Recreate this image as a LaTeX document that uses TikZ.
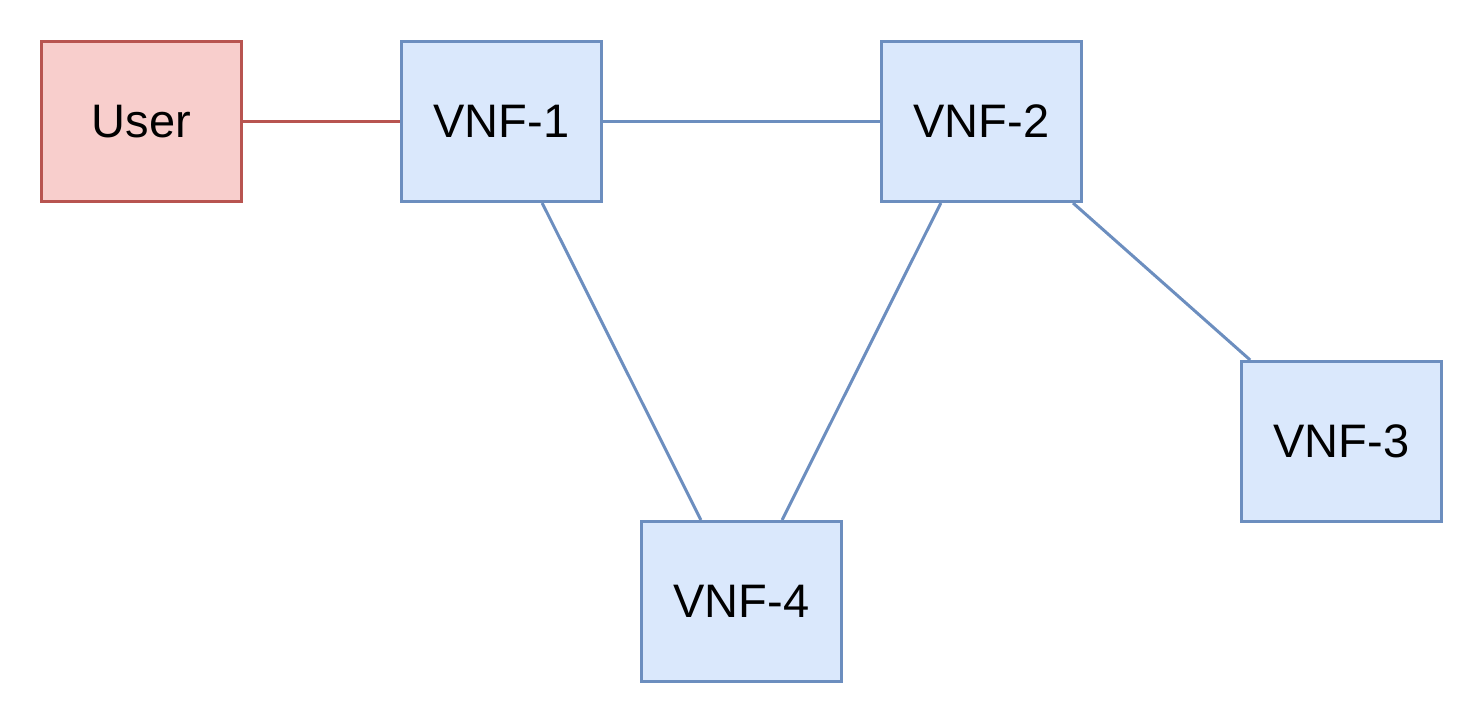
\documentclass[tikz,border=0pt]{standalone}
\usepackage{fontspec}
\setmainfont{Liberation Sans}
\definecolor{bfill}{HTML}{DAE8FC}
\definecolor{bdraw}{HTML}{6C8EBF}
\definecolor{rfill}{HTML}{F8CECC}
\definecolor{rdraw}{HTML}{B85450}
\begin{document}
\begin{tikzpicture}[x=1pt,y=-1pt,
  vnf/.style={draw=bdraw,fill=bfill,line width=3pt,minimum width=200pt,minimum height=160pt,inner sep=0pt,font=\fontsize{47}{56}\selectfont},
  usr/.style={vnf,draw=rdraw,fill=rfill},
  blink/.style={draw=bdraw,line width=3pt},
  rlink/.style={draw=rdraw,line width=3pt}]
\useasboundingbox (0,0) rectangle (1484,724);
\node[usr] (user) at (141.5,121.5) {User};
\node[vnf] (v1) at (501.5,121.5) {VNF-1};
\node[vnf] (v2) at (981.5,121.5) {VNF-2};
\node[vnf] (v3) at (1341.5,441.5) {VNF-3};
\node[vnf] (v4) at (741.5,601.5) {VNF-4};
\draw[rlink] (user) -- (v1);
\draw[blink] (v1) -- (v2);
\draw[blink] (v1) -- (v4);
\draw[blink] (v2) -- (v4);
\draw[blink] (v2) -- (v3);
\end{tikzpicture}
\end{document}
